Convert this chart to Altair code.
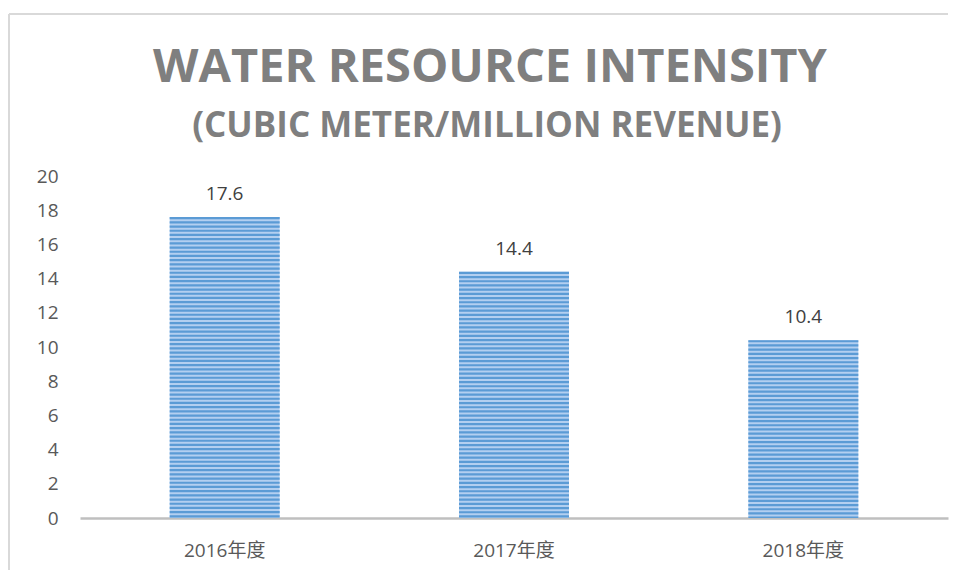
import altair as alt
import pandas as pd

years = ["2016年度", "2017年度", "2018年度"]
values = [17.6, 14.4, 10.4]
y_ticks = [0, 2, 4, 6, 8, 10, 12, 14, 16, 18, 20]
title_text = "WATER RESOURCE INTENSITY"
subtitle_text = "(CUBIC METER/MILLION REVENUE)"

df = pd.DataFrame({"year": years, "value": values})
one = pd.DataFrame({"a": [0]})

FONT = "Open Sans, Noto Sans CJK SC, sans-serif"

x_enc = alt.X("year:N", sort=years,
              scale=alt.Scale(paddingInner=0.62, paddingOuter=0.31),
              axis=alt.Axis(title=None, labelAngle=0, ticks=False, domain=True,
                            domainColor="#bfbfbf", domainWidth=2.5,
                            labelFont=FONT, labelFontSize=19, labelColor="#595959",
                            labelPadding=23, grid=False))
y_enc = alt.Y("value:Q", scale=alt.Scale(domain=[0, 20], nice=False),
              axis=alt.Axis(title=None, values=y_ticks, ticks=False, domain=False,
                            grid=False, labelFont=FONT, labelFontSize=19,
                            labelColor="#595959", labelPadding=22,
                            labelOverlap=False))

base = alt.Chart(df)

bars = base.mark_bar(color="#b3cff0").encode(x=x_enc, y=y_enc)

stripes = base.mark_rule(color="#5b9bd5", strokeWidth=110, strokeDash=[2.2, 2],
                         strokeCap="butt").encode(x=x_enc, y=y_enc, y2=alt.datum(0))

labels = base.mark_text(font=FONT, fontSize=19, color="#404040",
                        baseline="alphabetic", dy=-17).encode(
    x=x_enc, y=y_enc, text=alt.Text("value:Q", format=".1f"))

frame_top = alt.Chart(one).mark_rule(color="#d9d9d9", strokeWidth=2).encode(
    x=alt.value(-71), x2=alt.value(868), y=alt.value(-162))
frame_left = alt.Chart(one).mark_rule(color="#d9d9d9", strokeWidth=2).encode(
    x=alt.value(-71), y=alt.value(-162), y2=alt.value(394))

title_mark = alt.Chart(one).mark_text(
    text=title_text, font=FONT, fontSize=47, fontWeight="bold", color="#7f7f7f",
    align="center", baseline="alphabetic").encode(x=alt.value(410), y=alt.value(-94))
subtitle_mark = alt.Chart(one).mark_text(
    text=subtitle_text, font=FONT, fontSize=35, fontWeight="bold", color="#7f7f7f",
    align="center", baseline="alphabetic").encode(x=alt.value(407), y=alt.value(-39))

chart = alt.layer(bars, stripes, labels, frame_top, frame_left,
                  title_mark, subtitle_mark).properties(
    width=868, height=342,
    padding={"left": 0, "top": 5, "right": 0, "bottom": 0},
).configure_view(stroke=None).configure_axis(labelOverlap=False)

chart.save("out.html", embed_options={"renderer": "svg", "actions": False})
